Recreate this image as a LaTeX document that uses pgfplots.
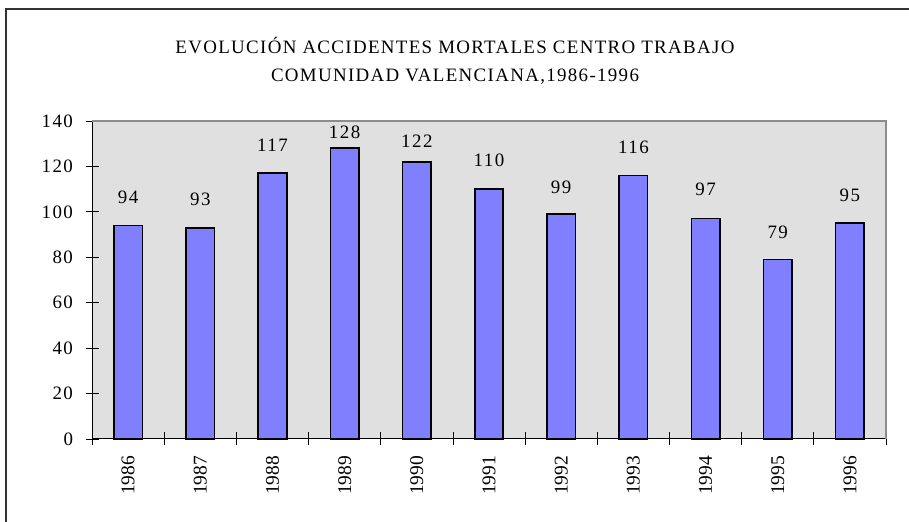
\documentclass[border=0pt]{standalone}
\usepackage{pgfplots}
\pgfplotsset{compat=1.18}
\usepackage{fontspec}
\setmainfont{Liberation Serif}
\newfontfamily\spaced[LetterSpace=8]{Liberation Serif}
\newfontfamily\titlefont[LetterSpace=7]{Liberation Serif}
\definecolor{barblue}{HTML}{8080FF}
\definecolor{plotbg}{HTML}{E0E0E0}
\definecolor{framegray}{HTML}{8C8C8C}
\begin{document}
\begin{tikzpicture}[x=1bp,y=1bp]
\path[use as bounding box] (0,0) rectangle (909,522);
\draw[line width=1.5bp, black!80] (6,0) -- (6,513) -- (909,513);
\node[align=center, font=\titlefont\fontsize{19}{28}\selectfont] at (455,461) {EVOLUCIÓN ACCIDENTES MORTALES CENTRO TRABAJO\\COMUNIDAD VALENCIANA,1986-1996};
\begin{axis}[
  at={(92bp,83bp)}, anchor=south west,
  scale only axis, width=794bp, height=318bp,
  xmin=-0.5, xmax=10.5, ymin=0, ymax=140,
  axis x line*=bottom, axis y line*=left,
  axis line style={-, black, line width=1bp},
  axis background/.style={fill=plotbg},
  ytick={0,20,...,140},
  xtick={-0.5,0.5,...,10.5},
  x tick label as interval,
  xticklabels={1986,1987,1988,1989,1990,1991,1992,1993,1994,1995,1996},
  tick align=center, major tick length=13bp,
  tick style={black, line width=0.8bp},
  /pgf/number format/assume math mode=true,
  yticklabel style={font=\spaced\fontsize{19}{22}\selectfont, xshift=-9bp},
  xticklabel style={font=\fontsize{19.5}{22}\selectfont, rotate=90, anchor=east, xshift=-7bp},
  clip=false,
]
\addplot[ybar, bar width=28.5bp, fill=barblue, draw=black, line width=1.6bp] coordinates {
  (0,94) (1,93) (2,117) (3,128) (4,122) (5,110) (6,99) (7,116) (8,97) (9,79) (10,95)
};
\addplot[only marks, mark=none, point meta=explicit symbolic,
  nodes near coords, nodes near coords align={center},
  every node near coord/.append style={font=\spaced\fontsize{19}{22}\selectfont, anchor=center, black}]
  coordinates {
  (0,106.5) [94] (1,105.7) [93] (2,129.4) [117] (3,134.9) [128] (4,130.9) [122]
  (5,122.7) [110] (6,110.9) [99] (7,128.6) [116] (8,109.8) [97] (9,91.1) [79] (10,107.3) [95]
};
\draw[framegray, line width=1.5bp] (rel axis cs:0,1) -- (rel axis cs:1,1) -- (rel axis cs:1,0);
\end{axis}
\end{tikzpicture}
\end{document}
